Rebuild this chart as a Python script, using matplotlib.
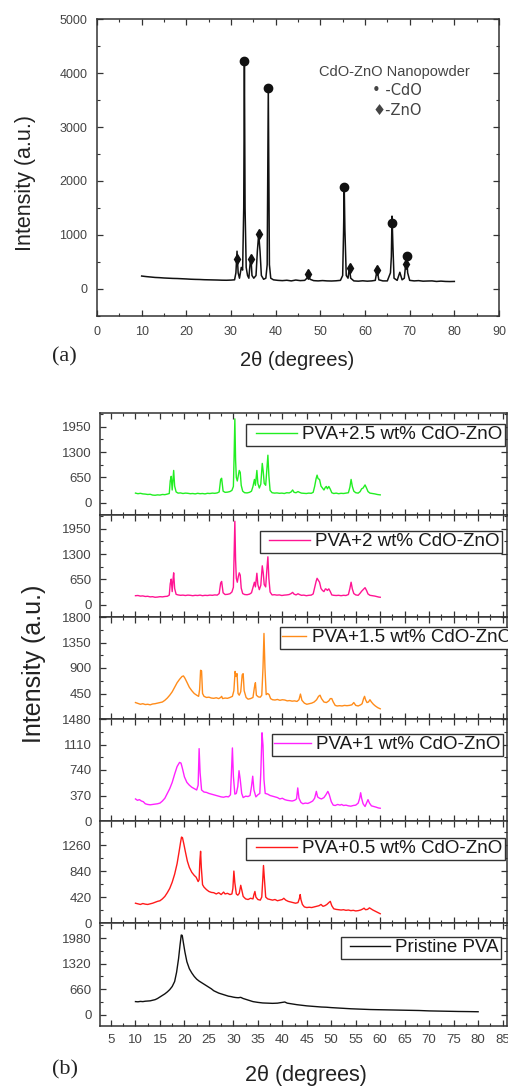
import matplotlib
matplotlib.use('Agg')
import matplotlib.pyplot as plt
from matplotlib.lines import Line2D
from matplotlib.legend_handler import HandlerLine2D
from matplotlib.ticker import MultipleLocator, FixedLocator, AutoMinorLocator

plt.rcParams['font.family'] = ['Liberation Sans', 'DejaVu Sans']

# ---------------- data: panel (a) CdO-ZnO nanopowder ----------------
nano = [(10.0, 240), (11, 230), (12, 222), (13, 214), (14, 210), (15, 204), (16, 200), (17, 196),
        (18, 194), (19, 190), (20, 186), (21, 181), (22, 178), (23, 176), (24, 172), (25, 170),
        (26, 168), (27, 166), (28, 163), (29, 162), (30, 165), (30.8, 170), (31.1, 300), (31.35, 700),
        (31.6, 300), (31.9, 200), (32.3, 400), (32.6, 350), (32.85, 1500), (33.0, 4250), (33.15, 1500),
        (33.4, 400), (33.7, 250), (34.0, 200), (34.2, 400), (34.45, 600), (34.7, 250), (35.1, 200),
        (35.6, 250), (35.9, 700), (36.2, 1020), (36.5, 700), (36.8, 250), (37.3, 180), (37.8, 200),
        (38.1, 450), (38.35, 3720), (38.6, 450), (38.9, 200), (39.5, 170), (40.5, 160), (41.5, 155),
        (42.5, 162), (43.5, 150), (44.5, 166), (45.5, 155), (46.5, 160), (47.0, 200), (47.35, 280),
        (47.7, 180), (48.5, 155), (49.5, 150), (50.5, 156), (51.5, 150), (52.5, 148), (53.5, 152),
        (54.5, 160), (55.0, 250), (55.2, 1050), (55.35, 1900), (55.5, 1100), (55.8, 250), (56.2, 200),
        (56.5, 390), (56.8, 200), (57.5, 150), (58.5, 145), (59.5, 152), (60.5, 145), (61.5, 150),
        (62.3, 160), (62.7, 350), (63.1, 170), (64.0, 150), (65.0, 150), (65.7, 300), (65.9, 600),
        (66.05, 1350), (66.25, 800), (66.5, 200), (67.2, 160), (67.8, 310), (68.3, 170), (68.8, 200),
        (69.1, 450), (69.3, 620), (69.55, 300), (70.0, 160), (71, 150), (72, 155), (73, 145),
        (74, 148), (75, 150), (76, 140), (77, 146), (78, 140), (79, 138), (80, 140)]
cdo_marks = [(33.0, 4230), (38.35, 3720), (55.35, 1880), (66.1, 1220), (69.3, 610)]
zno_marks = [(31.4, 560), (34.45, 560), (36.2, 1020), (47.35, 280), (56.55, 395), (62.75, 360), (69.25, 460)]

# ---------------- data: panel (b) PVA films ----------------
pva25 = [(10.0, 250), (10.5, 235), (11.0, 245), (11.5, 230), (12.0, 225), (12.5, 215), (13.0, 220),
         (13.5, 200), (14.0, 195), (14.5, 205), (15.0, 200), (15.5, 215), (16.0, 210), (16.5, 225),
         (16.9, 240), (17.1, 560), (17.3, 680), (17.5, 330), (17.65, 600), (17.8, 830), (18.0, 430),
         (18.3, 280), (18.7, 250), (19.2, 255), (19.7, 240), (20.2, 250), (20.7, 245), (21.2, 235),
         (21.7, 240), (22.2, 230), (22.7, 245), (23.2, 235), (23.7, 240), (24.2, 230), (24.7, 245),
         (25.2, 240), (25.7, 250), (26.2, 245), (26.7, 255), (27.1, 280), (27.4, 600), (27.6, 630),
         (27.9, 300), (28.3, 270), (28.8, 275), (29.3, 290), (29.7, 320), (30.0, 420), (30.15, 1200),
         (30.3, 2150), (30.45, 1100), (30.6, 650), (30.8, 560), (31.0, 700), (31.2, 830), (31.4, 780),
         (31.6, 450), (31.9, 300), (32.3, 260), (32.8, 255), (33.3, 270), (33.7, 300), (34.0, 420),
         (34.3, 600), (34.5, 450), (34.8, 830), (35.0, 500), (35.3, 380), (35.6, 480), (35.9, 1010),
         (36.1, 800), (36.3, 500), (36.6, 450), (36.85, 900), (37.05, 1220), (37.25, 700), (37.5, 320),
         (37.9, 260), (38.4, 250), (38.9, 255), (39.4, 245), (39.9, 250), (40.4, 240), (40.9, 260),
         (41.4, 255), (41.8, 280), (42.1, 330), (42.4, 270), (42.8, 260), (43.2, 290), (43.5, 270),
         (43.9, 250), (44.4, 245), (44.9, 240), (45.4, 250), (45.9, 245), (46.3, 270), (46.6, 420),
         (46.9, 620), (47.1, 710), (47.3, 620), (47.6, 600), (47.9, 430), (48.2, 380), (48.5, 330),
         (48.8, 400), (49.0, 420), (49.2, 360), (49.5, 420), (49.8, 350), (50.1, 260), (50.5, 240),
         (51.0, 250), (51.5, 235), (52.0, 245), (52.5, 240), (53.0, 250), (53.5, 260), (53.8, 400),
         (54.05, 600), (54.3, 420), (54.6, 300), (55.0, 260), (55.5, 250), (55.9, 290), (56.2, 360),
         (56.5, 380), (56.9, 460), (57.2, 380), (57.5, 290), (57.9, 250), (58.4, 240), (58.9, 230),
         (59.4, 215), (59.7, 210), (60.0, 205)]
pva20 = [(10.0, 235), (10.5, 240), (11.0, 225), (11.5, 230), (12.0, 215), (12.5, 220), (13.0, 205),
         (13.5, 210), (14.0, 195), (14.5, 200), (15.0, 210), (15.5, 205), (16.0, 215), (16.5, 220),
         (16.9, 250), (17.1, 540), (17.3, 660), (17.5, 340), (17.65, 620), (17.8, 820), (18.0, 420),
         (18.3, 270), (18.7, 255), (19.2, 245), (19.7, 250), (20.2, 240), (20.7, 250), (21.2, 245),
         (21.7, 235), (22.2, 245), (22.7, 240), (23.2, 250), (23.7, 235), (24.2, 245), (24.7, 240),
         (25.2, 250), (25.7, 245), (26.2, 255), (26.7, 250), (27.1, 290), (27.4, 560), (27.6, 600),
         (27.9, 310), (28.3, 265), (28.8, 270), (29.3, 285), (29.7, 330), (30.0, 450), (30.15, 1250),
         (30.3, 2140), (30.45, 1150), (30.6, 680), (30.8, 580), (31.0, 720), (31.2, 820), (31.4, 760),
         (31.6, 430), (31.9, 290), (32.3, 265), (32.8, 260), (33.3, 275), (33.7, 310), (34.0, 440),
         (34.3, 580), (34.5, 460), (34.8, 810), (35.0, 520), (35.3, 390), (35.6, 500), (35.9, 1000),
         (36.1, 820), (36.3, 520), (36.6, 460), (36.85, 920), (37.05, 1230), (37.25, 680), (37.5, 330),
         (37.9, 255), (38.4, 260), (38.9, 250), (39.4, 255), (39.9, 240), (40.4, 250), (40.9, 255),
         (41.4, 265), (41.8, 290), (42.1, 320), (42.4, 275), (42.8, 255), (43.2, 285), (43.5, 265),
         (43.9, 245), (44.4, 250), (44.9, 235), (45.4, 245), (45.9, 250), (46.3, 280), (46.6, 440),
         (46.9, 600), (47.1, 680), (47.3, 640), (47.6, 580), (47.9, 420), (48.2, 370), (48.5, 340),
         (48.8, 410), (49.0, 400), (49.2, 370), (49.5, 410), (49.8, 340), (50.1, 255), (50.5, 245),
         (51.0, 240), (51.5, 245), (52.0, 235), (52.5, 245), (53.0, 240), (53.5, 265), (53.8, 420),
         (54.05, 580), (54.3, 410), (54.6, 290), (55.0, 255), (55.5, 245), (55.9, 300), (56.2, 350),
         (56.5, 390), (56.9, 440), (57.2, 370), (57.5, 280), (57.9, 245), (58.4, 235), (58.9, 225),
         (59.4, 210), (59.7, 200), (60.0, 195)]
pva15 = [(10.0, 290), (10.5, 275), (11.0, 260), (11.5, 270), (12.0, 255), (12.5, 260), (13.0, 250),
         (13.5, 265), (14.0, 270), (14.5, 280), (15.0, 290), (15.5, 300), (16.0, 330), (16.5, 370),
         (17.0, 420), (17.5, 480), (18.0, 560), (18.5, 640), (19.0, 700), (19.5, 750), (19.8, 760),
         (20.1, 720), (20.5, 650), (21.0, 560), (21.5, 500), (22.0, 450), (22.5, 420), (22.9, 400),
         (23.1, 520), (23.3, 860), (23.5, 850), (23.7, 450), (24.0, 400), (24.5, 380), (25.0, 385),
         (25.5, 370), (26.0, 365), (26.5, 375), (27.0, 360), (27.4, 380), (27.6, 400), (27.8, 360),
         (28.3, 370), (28.8, 365), (29.3, 380), (29.8, 400), (30.1, 500), (30.35, 840), (30.55, 750),
         (30.75, 800), (30.95, 450), (31.2, 420), (31.5, 480), (31.8, 780), (32.0, 800), (32.2, 500),
         (32.6, 380), (33.0, 350), (33.5, 360), (34.0, 380), (34.3, 560), (34.5, 640), (34.7, 420),
         (35.1, 390), (35.5, 385), (35.8, 420), (36.05, 900), (36.25, 1510), (36.45, 900), (36.7, 430),
         (37.0, 450), (37.3, 430), (37.6, 360), (38.0, 340), (38.5, 335), (39.0, 345), (39.5, 330),
         (40.0, 340), (40.5, 335), (41.0, 320), (41.5, 325), (42.0, 315), (42.5, 320), (43.0, 310),
         (43.4, 340), (43.7, 440), (44.0, 330), (44.5, 280), (45.0, 260), (45.5, 270), (46.0, 280),
         (46.5, 300), (47.0, 340), (47.4, 400), (47.7, 420), (48.0, 360), (48.5, 300), (49.0, 290),
         (49.5, 320), (49.8, 360), (50.1, 360), (50.4, 300), (50.8, 240), (51.2, 230), (51.7, 235),
         (52.2, 230), (52.7, 240), (53.2, 235), (53.7, 240), (54.2, 250), (54.6, 290), (55.0, 240),
         (55.5, 230), (56.0, 250), (56.3, 270), (56.6, 360), (56.8, 400), (57.0, 340), (57.3, 290),
         (57.6, 300), (57.9, 340), (58.2, 300), (58.6, 260), (59.0, 230), (59.5, 200), (60.0, 180)]
pva10 = [(10.0, 320), (10.4, 300), (10.8, 310), (11.2, 290), (11.6, 280), (12.0, 250), (12.5, 240),
         (13.0, 235), (13.5, 240), (14.0, 245), (14.5, 250), (15.0, 260), (15.5, 290), (16.0, 330),
         (16.5, 400), (17.0, 470), (17.5, 560), (18.0, 680), (18.5, 790), (19.0, 850), (19.3, 840),
         (19.6, 760), (20.0, 640), (20.5, 560), (21.0, 520), (21.5, 490), (22.0, 470), (22.5, 450),
         (22.8, 520), (23.0, 1050), (23.2, 700), (23.5, 450), (24.0, 420), (24.5, 415), (25.0, 400),
         (25.5, 390), (26.0, 380), (26.5, 370), (27.0, 360), (27.5, 350), (28.0, 345), (28.5, 355),
         (29.0, 350), (29.4, 380), (29.6, 700), (29.8, 1060), (30.0, 650), (30.3, 390), (30.6, 400),
         (30.9, 500), (31.15, 730), (31.4, 600), (31.7, 400), (32.0, 340), (32.5, 360), (33.0, 355),
         (33.4, 370), (33.7, 500), (33.95, 650), (34.2, 450), (34.6, 350), (35.0, 380), (35.4, 400),
         (35.6, 700), (35.85, 1280), (36.05, 1100), (36.25, 600), (36.5, 400), (37.0, 390), (37.5, 370),
         (38.0, 360), (38.5, 350), (39.0, 340), (39.5, 320), (40.0, 330), (40.5, 310), (41.0, 300),
         (41.5, 295), (42.0, 290), (42.5, 300), (42.9, 320), (43.15, 480), (43.4, 330), (43.8, 270),
         (44.2, 250), (44.7, 260), (45.2, 255), (45.7, 270), (46.2, 290), (46.6, 330), (46.95, 430),
         (47.2, 350), (47.6, 330), (48.0, 320), (48.5, 340), (48.9, 380), (49.3, 430), (49.6, 380),
         (50.0, 280), (50.4, 230), (50.8, 225), (51.3, 240), (51.8, 230), (52.1, 240), (52.5, 225),
         (53.0, 230), (53.5, 220), (54.0, 215), (54.5, 225), (55.0, 230), (55.5, 260), (55.8, 330),
         (56.0, 410), (56.2, 330), (56.5, 250), (56.9, 210), (57.2, 260), (57.5, 310), (57.8, 260),
         (58.2, 220), (58.7, 210), (59.2, 200), (59.6, 190), (60.0, 185)]
pva05 = [(10.0, 320), (10.5, 310), (11.0, 300), (11.5, 315), (12.0, 305), (12.5, 300), (13.0, 310),
         (13.5, 320), (14.0, 335), (14.5, 350), (15.0, 360), (15.5, 390), (16.0, 430), (16.5, 490),
         (17.0, 560), (17.5, 660), (18.0, 790), (18.5, 960), (18.9, 1150), (19.2, 1300), (19.4, 1390),
         (19.6, 1380), (19.9, 1270), (20.2, 1150), (20.6, 1000), (21.0, 900), (21.5, 820), (22.0, 770),
         (22.4, 740), (22.8, 670), (23.0, 700), (23.15, 1000), (23.3, 1160), (23.45, 900), (23.7, 620),
         (24.0, 580), (24.5, 540), (25.0, 510), (25.5, 495), (26.0, 490), (26.5, 470), (27.0, 490),
         (27.5, 460), (28.0, 500), (28.3, 470), (28.8, 480), (29.3, 460), (29.7, 470), (29.9, 560),
         (30.1, 840), (30.3, 650), (30.6, 470), (30.9, 450), (31.2, 480), (31.5, 610), (31.7, 540),
         (32.0, 430), (32.5, 390), (33.0, 380), (33.5, 400), (34.0, 390), (34.2, 460), (34.4, 510),
         (34.6, 420), (35.0, 380), (35.5, 370), (35.8, 420), (36.0, 700), (36.15, 930), (36.35, 700),
         (36.6, 420), (37.0, 390), (37.5, 380), (38.0, 370), (38.5, 380), (39.0, 360), (39.5, 370),
         (40.0, 380), (40.3, 400), (40.7, 370), (41.2, 350), (41.7, 340), (42.2, 330), (42.7, 320),
         (43.2, 330), (43.5, 400), (43.65, 460), (43.8, 380), (44.1, 300), (44.5, 260), (45.0, 250),
         (45.5, 255), (46.0, 250), (46.5, 260), (47.0, 270), (47.5, 280), (47.9, 300), (48.3, 270),
         (48.7, 280), (49.1, 300), (49.5, 330), (49.8, 350), (50.1, 280), (50.5, 230), (51.0, 220),
         (51.5, 215), (52.0, 210), (52.5, 215), (53.0, 205), (53.5, 210), (54.0, 200), (54.5, 205),
         (55.0, 195), (55.5, 200), (56.0, 210), (56.4, 225), (56.7, 240), (57.0, 215), (57.4, 220),
         (57.8, 245), (58.1, 230), (58.5, 210), (59.0, 190), (59.5, 170), (60.0, 150)]
pristine = [(10.0, 340), (10.5, 335), (11.0, 345), (11.5, 340), (12.0, 350), (12.5, 355), (13.0, 360),
            (13.5, 375), (14.0, 390), (14.5, 420), (15.0, 460), (15.5, 500), (16.0, 540), (16.5, 590),
            (17.0, 650), (17.5, 730), (18.0, 860), (18.4, 1100), (18.8, 1450), (19.1, 1800), (19.35, 2060),
            (19.55, 2050), (19.8, 1850), (20.1, 1620), (20.5, 1370), (21.0, 1190), (21.5, 1080), (22.0, 990),
            (22.5, 920), (23.0, 870), (23.5, 830), (24.0, 790), (24.5, 750), (25.0, 710), (25.5, 670),
            (26.0, 620), (26.5, 590), (27.0, 560), (27.5, 540), (28.0, 520), (28.5, 500), (29.0, 480),
            (29.5, 470), (30.0, 455), (30.5, 445), (31.0, 440), (31.5, 450), (32.0, 420), (32.5, 400),
            (33.0, 380), (33.5, 360), (34.0, 340), (35.0, 320), (36.0, 305), (37.0, 300), (38.0, 295),
            (39.0, 300), (40.0, 320), (40.5, 330), (41.0, 300), (42.0, 280), (43.0, 260), (44.0, 245),
            (45.0, 230), (46.0, 220), (47.0, 210), (48.0, 200), (49.0, 195), (50.0, 185), (52.0, 170),
            (54.0, 155), (56.0, 145), (58.0, 135), (60.0, 130), (62.0, 125), (64.0, 120), (66.0, 115),
            (68.0, 110), (70.0, 100), (72.0, 95), (74.0, 90), (76.0, 85), (78.0, 82), (80.0, 78)]

labels_b = ['PVA+2.5 wt% CdO-ZnO', 'PVA+2 wt% CdO-ZnO', 'PVA+1.5 wt% CdO-ZnO',
            'PVA+1 wt% CdO-ZnO', 'PVA+0.5 wt% CdO-ZnO', 'Pristine PVA']
series_b = [pva25, pva20, pva15, pva10, pva05, pristine]
yticks_b = [[0, 650, 1300, 1950], [0, 650, 1300, 1950], [450, 900, 1350, 1800],
            [0, 370, 740, 1110, 1480], [0, 420, 840, 1260], [0, 660, 1320, 1980]]
ylims_b = [(-310, 2300), (-310, 2300), (0, 1800), (0, 1480), (0, 1650), (-290, 2370)]
colors_b = ['#22ee22', '#ff1493', '#ff8c1a', '#ff22ff', '#ff1a1a', '#111111']

# legend frame left / top (pixels), handle inset and length (pixels)
leg_left = [246, 260, 280, 272, 246, 341]
leg_top = [424, 531, 627, 734, 838, 937]
leg_inset = [7.5, 6.5, 0, 0, 7.5, 6.5]
leg_len = [41, 41, 24, 37, 41, 40]

# ---------------- figure ----------------
W, H = 508, 1086
fig = plt.figure(figsize=(W / 100, H / 100), dpi=100)

def px_axes(l, t, r, b):
    return fig.add_axes([l / W, 1 - b / H, (r - l) / W, (b - t) / H])

tick_col = '#444444'
spine_col = '#333333'

def style(ax):
    for s in ax.spines.values():
        s.set_color(spine_col)
        s.set_linewidth(1.1)
    ax.tick_params(which='both', direction='in', top=True, right=True, color=spine_col,
                   labelcolor=tick_col)
    ax.tick_params(which='major', length=4, width=0.9)
    ax.tick_params(which='minor', length=2.2, width=0.8)

# panel (a)
axa = px_axes(97, 19, 499, 316)
xa, ya = zip(*nano)
axa.plot(xa, ya, color='#111111', lw=1.1)
cx, cy = zip(*cdo_marks)
zx, zy = zip(*zno_marks)
axa.plot(cx, cy, 'o', color='#111111', ms=6, ls='none')
axa.plot(zx, zy, 'd', color='#111111', ms=5, ls='none')
axa.set_xlim(0, 90)
axa.set_ylim(-500, 5000)
axa.xaxis.set_major_locator(MultipleLocator(10))
axa.xaxis.set_minor_locator(MultipleLocator(5))
axa.yaxis.set_major_locator(FixedLocator([0, 1000, 2000, 3000, 4000, 5000]))
axa.yaxis.set_minor_locator(MultipleLocator(500))
style(axa)
axa.tick_params(which='major', labelsize=9, pad=7)
axa.text(0.740, 0.8215, 'CdO-ZnO Nanopowder', transform=axa.transAxes, ha='center', va='center',
         fontsize=10.5, color='#444444')
axa.text(0.684, 0.7576, '\u2022 -CdO', transform=axa.transAxes, ha='left', va='center',
         fontsize=10.5, color='#444444', family=['DejaVu Sans'])
axa.text(0.686, 0.6936, '\u2666-ZnO', transform=axa.transAxes, ha='left', va='center',
         fontsize=10.5, color='#444444', family=['DejaVu Sans'])

fig.text(25 / W, 1 - 183 / H, 'Intensity (a.u.)', rotation=90, ha='center', va='center',
         fontsize=15.5, color='#222222')
fig.text(297 / W, 1 - 360 / H, '2\u03b8 (degrees)', ha='center', va='center', fontsize=14.5,
         color='#222222')
fig.text(64 / W, 1 - 357 / H, '(a)', ha='center', va='center', fontsize=16,
         family=['Liberation Serif'], color='#222222')

# panel (b)
LEG_FS = 13.5
fs_px = LEG_FS * 100 / 72
tops = [413, 515, 617, 719, 821, 923, 1026]
for i, (data, lab) in enumerate(zip(series_b, labels_b)):
    l, t, b = 100, tops[i], tops[i + 1]
    ax = px_axes(l, t, 507, b)
    xs, ys = zip(*data)
    ax.plot(xs, ys, color=colors_b[i], lw=1.0, label=lab)
    ax.set_xlim(2.75, 85.9)
    ax.set_ylim(*ylims_b[i])
    ax.xaxis.set_major_locator(MultipleLocator(5))
    ax.xaxis.set_minor_locator(MultipleLocator(2.5))
    ax.yaxis.set_major_locator(FixedLocator(yticks_b[i]))
    ax.yaxis.set_minor_locator(AutoMinorLocator(2))
    style(ax)
    ax.tick_params(which='major', labelsize=9.5, pad=6)
    if i < 5:
        ax.tick_params(labelbottom=False)
    anchor = ((leg_left[i] - l) / 407, 1 - (leg_top[i] - t) / (b - t))
    hl = (leg_inset[i] + leg_len[i]) / fs_px
    leg = ax.legend(loc='upper left', bbox_to_anchor=anchor, borderaxespad=0,
                    fontsize=LEG_FS, handlelength=hl, handletextpad=0.28, borderpad=0.12,
                    fancybox=False, framealpha=1, edgecolor='#333333',
                    handler_map={Line2D: HandlerLine2D(xpad=leg_inset[i] / fs_px)})
    leg.get_frame().set_linewidth(1.0)
    for tx in leg.get_texts():
        tx.set_color('#1a1a1a')

fig.text(34 / W, 1 - 664 / H, 'Intensity (a.u.)', rotation=90, ha='center', va='center',
         fontsize=18, color='#222222')
fig.text(306 / W, 1 - 1075 / H, '2\u03b8 (degrees)', ha='center', va='center', fontsize=15.5,
         color='#222222')
fig.text(65 / W, 1 - 1070 / H, '(b)', ha='center', va='center', fontsize=16,
         family=['Liberation Serif'], color='#222222')

fig.savefig('out.png', dpi=100)
